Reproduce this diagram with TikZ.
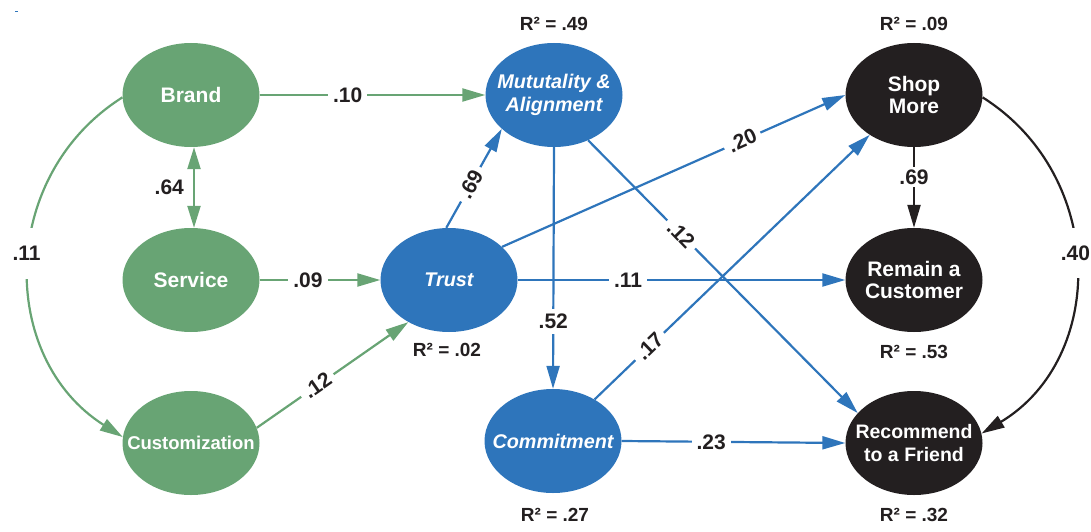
\documentclass[tikz,border=0pt]{standalone}
\usepackage{fontspec}
\setmainfont{Liberation Sans}
\usetikzlibrary{arrows.meta,shapes.geometric}
\definecolor{cgreen}{RGB}{104,164,116}
\definecolor{cblue}{RGB}{46,117,187}
\definecolor{cblack}{RGB}{35,31,32}
\begin{document}
\begin{tikzpicture}[x=1pt,y=-1pt,
  ell/.style={ellipse, minimum width=137pt, minimum height=104pt, inner sep=0pt},
  ntext/.style={text=white, align=center, inner sep=0pt, font=\bfseries\fontsize{21}{22.5}\selectfont},
  itext/.style={ntext, font=\bfseries\itshape\fontsize{19.8}{22.5}\selectfont},
  gnode/.style={ell, fill=cgreen},
  bnode/.style={ell, fill=cblue},
  knode/.style={ell, fill=cblack},
  lbl/.style={fill=white, inner sep=5pt, text=cblack, font=\bfseries\fontsize{21}{22}\selectfont},
  rsq/.style={text=cblack, inner sep=0pt, font=\bfseries\fontsize{19}{20}\selectfont},
  tip/.style={-{Triangle[length=23pt,width=13pt]}},
  gline/.style={draw=cgreen, line width=2.2pt},
  bline/.style={draw=cblue, line width=2.2pt},
  kline/.style={draw=cblack, line width=2.2pt}]
\useasboundingbox (0,0) rectangle (1091,532);
\fill[cblue] (15,11) rectangle (18,12.5);
% nodes
\node[gnode, label={[ntext]center:Brand}] (Brand) at (191,95) {};
\node[gnode, label={[ntext]center:Service}] (Service) at (191,280) {};
\node[gnode, label={[ntext, font=\bfseries\fontsize{18.5}{22.5}\selectfont]center:Customization}] (Cust) at (191,443) {};
\node[bnode, label={[itext]center:Mututality \&\\Alignment}] (Mut) at (554,95) {};
\node[bnode, label={[itext]center:Trust}] (Trust) at (449,280) {};
\node[bnode, label={[itext]center:Commitment}] (Comm) at (553,441) {};
\node[knode, label={[ntext]center:Shop\\More}] (Shop) at (914,95) {};
\node[knode, label={[ntext]center:Remain a\\Customer}] (Remain) at (914,280) {};
\node[knode, label={[ntext, font=\bfseries\fontsize{19.5}{22.5}\selectfont]center:Recommend\\to a Friend}] (Rec) at (914,443) {};
% R squared
\node[rsq] (rMut) at (554,24) {R² = .49};
\node[rsq] (rTrust) at (447,350) {R² = .02};
\node[rsq] (rComm) at (555,515) {R² = .27};
\node[rsq] (rShop) at (914,24) {R² = .09};
\node[rsq] (rRemain) at (914,352) {R² = .53};
\node[rsq] (rRec) at (914,515) {R² = .32};
% green paths
\draw[gline, tip] (Brand.east) -- node[lbl, pos=.39] {.10} (Mut.west);
\draw[gline, tip] (Service.east) -- node[lbl, pos=.40] {.09} (Trust.west);
\draw[gline, tip] (Cust.13) -- node[lbl, pos=.40, rotate=35] {.12} (Trust.226);
\draw[gline, {Triangle[length=22pt,width=13pt]}-{Triangle[length=22pt,width=13pt]}] ([xshift=3pt]Brand.south) -- node[pos=.5, left=9pt, text=cblack, inner sep=0pt, font=\bfseries\fontsize{21}{22}\selectfont] {.64} ([xshift=3pt]Service.north);
\draw[gline, tip] (Brand.182) .. controls (-2,176) and (-2,358) .. node[lbl, pos=.465, inner ysep=18pt, xshift=-3pt] {.11} (Cust.175);
% blue paths
\draw[bline, tip] (Trust.93) -- node[lbl, pos=.44, rotate=61] {.69} (Mut.213);
\draw[bline, tip] (Trust.32) -- node[lbl, pos=.70, rotate=24] {.20} (Shop.west);
\draw[bline, tip] (Mut.307) -- node[lbl, pos=.345, rotate=-46] {.12} (Rec.152);
\draw[bline, tip] (Trust.east) -- node[lbl, pos=.337] {.11} (Remain.west);
\draw[bline, tip] (Mut.south) -- node[lbl, pos=.72] {.52} (Comm.north);
\draw[bline, tip] (Comm.45) -- node[lbl, pos=.20, rotate=44] {.17} (Shop.222);
\draw[bline, tip] (Comm.east) -- node[lbl, pos=.40] {.23} (Rec.west);
% black paths
\draw[kline, tip] (Shop.south) -- node[lbl, pos=.37, inner ysep=3pt] {.69} (Remain.north);
\draw[kline, tip] (Shop.-2) .. controls (1107,176) and (1107,358) .. node[lbl, pos=.465, inner ysep=18pt] {.40} (Rec.8);
\end{tikzpicture}
\end{document}
